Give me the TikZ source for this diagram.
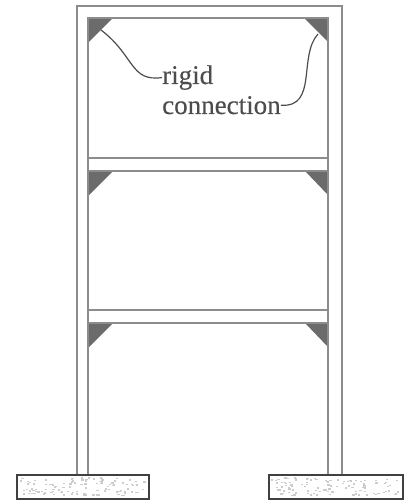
\documentclass[tikz,border=0pt]{standalone}
\usepackage{fontspec}
\setmainfont[FakeBold=0.25]{Liberation Serif}
\definecolor{linegray}{gray}{0.55}
\definecolor{gussetgray}{gray}{0.42}
\definecolor{footgray}{gray}{0.25}
\definecolor{stipple}{gray}{0.8}
\definecolor{labelgray}{gray}{0.3}
\tikzset{
  member/.style={draw=linegray,line width=1.8pt},
  gusset/.style={fill=gussetgray,draw=none},
  footing/.style={draw=footgray,line width=1.8pt,minimum width=132pt,minimum height=24pt,inner sep=0pt,anchor=north west},
  leader/.style={draw=labelgray,line width=1.2pt},
  lbl/.style={text=labelgray,font=\fontsize{27}{27}\selectfont,inner sep=0pt,anchor=base west}
}
\begin{document}
\begin{tikzpicture}[x=1pt,y=-1pt]
\useasboundingbox (0,0) rectangle (409,502);
% gussets
\fill[gusset] (88,18)--(113,18)--(88,43)--cycle;
\fill[gusset] (304,18)--(328,18)--(328,42)--cycle;
\fill[gusset] (88,171)--(113,171)--(88,196)--cycle;
\fill[gusset] (305,171)--(328,171)--(328,195)--cycle;
\fill[gusset] (88,323)--(113,323)--(88,348)--cycle;
\fill[gusset] (305,323)--(328,323)--(328,347)--cycle;
% frame
\draw[member] (77,474)--(77,6)--(342,6)--(342,474);
\draw[member] (88,474)--(88,18)--(328,18)--(328,474);
\draw[member] (88,158)--(328,158);
\draw[member] (88,171)--(328,171);
\draw[member] (88,310)--(328,310);
\draw[member] (88,323)--(328,323);
% footings
\node[footing] (footL) at (16,474) {};
\node[footing,minimum width=134pt] (footR) at (268,474) {};
\pgfmathsetseed{7}
\foreach \i in {1,...,110}{
  \pgfmathsetmacro{\px}{19+126*rnd}
  \pgfmathsetmacro{\py}{477+18*rnd}
  \fill[stipple] (\px,\py) rectangle ++(2.2,1.4);
  \pgfmathsetmacro{\qx}{271+128*rnd}
  \pgfmathsetmacro{\qy}{477+18*rnd}
  \fill[stipple] (\qx,\qy) rectangle ++(2.2,1.4);
}
% labels
\node[lbl] (rigid) at (162,84) {rigid};
\node[lbl] (conn) at (162,114) {connection};
\coordinate (gl) at (101,30);
\coordinate (gr) at (318,34);
\draw[leader] (rigid.west) .. controls (130,82) and (135,56) .. (gl);
\draw[leader] (conn.east) .. controls (318,108) and (298,56) .. (gr);
\end{tikzpicture}
\end{document}
